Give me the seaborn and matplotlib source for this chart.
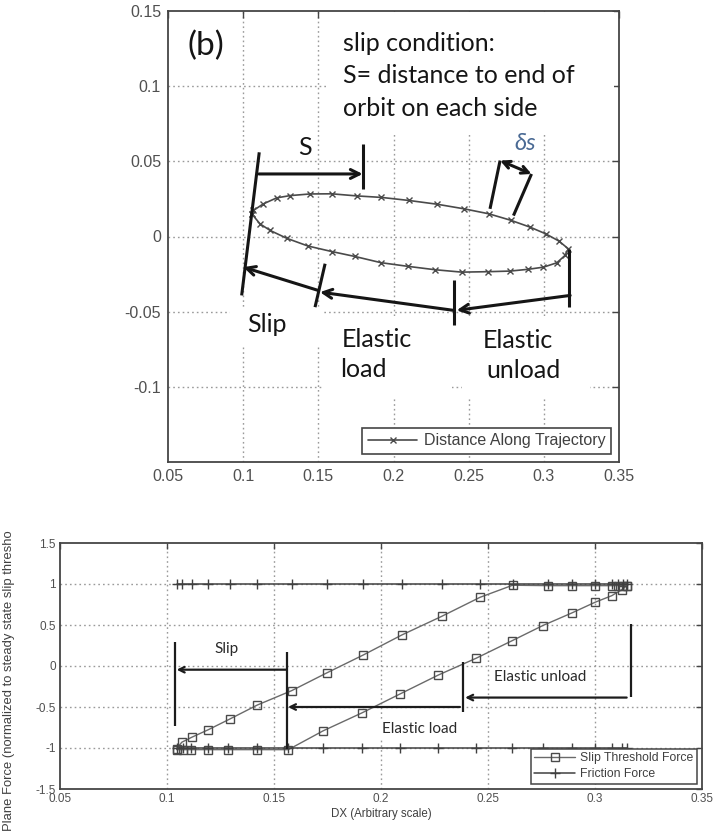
import numpy as np
import pandas as pd
import matplotlib
matplotlib.use("Agg")
import matplotlib.pyplot as plt
from matplotlib.patches import Rectangle
import seaborn as sns

# ---------------- data ----------------
# (b) orbit: upper branch left->right, then lower branch right->left
orbit_upper_x = [0.1057, 0.1068, 0.1134, 0.1223, 0.1312, 0.1445, 0.1589, 0.1755,
                 0.1920, 0.2100, 0.2288, 0.2470, 0.2634, 0.2780, 0.2909, 0.3012,
                 0.3100, 0.3163]
orbit_upper_y = [0.0151, 0.0173, 0.0217, 0.0257, 0.0272, 0.0283, 0.0284, 0.0270,
                 0.0260, 0.0240, 0.0215, 0.0184, 0.0151, 0.0108, 0.0062, 0.0018,
                 -0.0030, -0.0082]
orbit_lower_x = [0.3141, 0.3086, 0.2997, 0.2897, 0.2776, 0.2631, 0.2454, 0.2276,
                 0.2099, 0.1916, 0.1744, 0.1589, 0.1430, 0.1290, 0.1180, 0.1112,
                 0.1057]
orbit_lower_y = [-0.0126, -0.0175, -0.0204, -0.0218, -0.0230, -0.0234, -0.0237,
                 -0.0221, -0.0199, -0.0174, -0.0133, -0.0100, -0.0063, -0.0012,
                 0.0040, 0.0084, 0.0151]

# bottom panel: positions along the two halves of the cycle
dx_lower = [0.1045, 0.1073, 0.1112, 0.1193, 0.1287, 0.1419, 0.1567, 0.1730,
            0.1910, 0.2089, 0.2268, 0.2444, 0.2613, 0.2755, 0.2891, 0.3000,
            0.3078, 0.3125, 0.3148]
thr_lower = [-1.02, -1.02, -1.02, -1.02, -1.02, -1.02, -1.02, -0.79,
             -0.573, -0.341, -0.11, 0.094, 0.309, 0.492, 0.646, 0.777,
             0.857, 0.93, 0.98]
dx_upper = [0.3148, 0.3132, 0.3109, 0.3078, 0.3000, 0.2891, 0.2782, 0.2615,
            0.2463, 0.2284, 0.2097, 0.1917, 0.1746, 0.1583, 0.1422, 0.1294,
            0.1193, 0.1115, 0.1069, 0.1045]
thr_upper = [0.98, 0.98, 0.98, 0.98, 0.98, 0.98, 0.98, 0.985,
             0.838, 0.606, 0.378, 0.134, -0.085, -0.30, -0.476, -0.646,
             -0.777, -0.87, -0.93, -1.01]
fric_lower = [-1.0] * len(dx_lower)
fric_upper = [1.0] * len(dx_upper)

# ticks
top_xticks = [0.05, 0.1, 0.15, 0.2, 0.25, 0.3, 0.35]
top_xlabels = ["0.05", "0.1", "0.15", "0.2", "0.25", "0.3", "0.35"]
top_yticks = [-0.1, -0.05, 0.0, 0.05, 0.1, 0.15]
top_ylabels = ["-0.1", "-0.05", "0", "0.05", "0.1", "0.15"]
bot_xticks = top_xticks
bot_xlabels = top_xlabels
bot_yticks = [-1.5, -1.0, -0.5, 0.0, 0.5, 1.0, 1.5]
bot_ylabels = ["-1.5", "-1", "-0.5", "0", "0.5", "1", "1.5"]

# ---------------- style ----------------
sns.set_theme(style="white")
plt.rcParams["font.family"] = ["Liberation Sans", "DejaVu Sans"]
plt.rcParams["axes.axisbelow"] = True
CAL = ["Lato", "DejaVu Sans"]
INK = "#151515"
AXC = "#454545"

W, H = 715, 834
fig = plt.figure(figsize=(W / 100, H / 100), dpi=100)
fig.patch.set_facecolor("white")


def style_axes(ax, xt, xl, yt, yl, fs, grid_x, grid_y):
    ax.set_xticks(xt)
    ax.set_xticklabels(xl)
    ax.set_yticks(yt)
    ax.set_yticklabels(yl)
    ax.tick_params(direction="in", top=True, right=True, length=5, width=1,
                   color=AXC, labelcolor="#505050", labelsize=fs, pad=5)
    for s in ax.spines.values():
        s.set_color(AXC)
        s.set_linewidth(1.3)
    for v in grid_x:
        ax.axvline(v, color="#9a9a9a", lw=1.0, ls=(0, (1.2, 2.2)), zorder=0.5)
    for v in grid_y:
        ax.axhline(v, color="#9a9a9a", lw=1.0, ls=(0, (1.2, 2.2)), zorder=0.5)


# ================= top panel =================
ax1 = fig.add_axes([168 / W, 1 - 462 / H, 451 / W, 451 / H])
ax1.set_xlim(0.05, 0.35)
ax1.set_ylim(-0.15, 0.15)
style_axes(ax1, top_xticks, top_xlabels, top_yticks, top_ylabels, 11.5,
           [0.1, 0.15, 0.2, 0.25, 0.3], [-0.1, -0.05, 0.0, 0.05, 0.1])

orbit = pd.DataFrame({"x": orbit_upper_x + orbit_lower_x,
                      "y": orbit_upper_y + orbit_lower_y})
sns.lineplot(data=orbit, x="x", y="y", sort=False, estimator=None, ax=ax1,
             color="#4a4a4a", lw=1.2, marker="x", markersize=4.5,
             markeredgecolor="#4a4a4a", markeredgewidth=1.0,
             label="Distance Along Trajectory", zorder=3)

# white text boxes
for (x0, x1, y0, y1) in [(0.1558, 0.3467, 0.069, 0.1495),
                         (0.0913, 0.1525, -0.0724, -0.0478),
                         (0.1525, 0.2390, -0.1076, -0.0531),
                         (0.2456, 0.3308, -0.1076, -0.0531)]:
    ax1.add_patch(Rectangle((x0, y0), x1 - x0, y1 - y0, facecolor="white",
                            edgecolor="none", zorder=1))

lw_a = 2.2
def seg(ax, p, q, lw=lw_a, color=INK):
    ax.plot([p[0], q[0]], [p[1], q[1]], color=color, lw=lw,
            solid_capstyle="butt", zorder=4)

def arrow(ax, start, end, style="->", lw=lw_a, ms=16, color=INK):
    ax.annotate("", xy=end, xytext=start,
                arrowprops=dict(arrowstyle=style, lw=lw, color=color,
                                mutation_scale=ms, shrinkA=0, shrinkB=0),
                zorder=4)

seg(ax1, (0.1107, 0.056), (0.0990, -0.0392))
arrow(ax1, (0.1105, 0.0416), (0.1795, 0.0416))
seg(ax1, (0.1800, 0.0618), (0.1800, 0.0319))
seg(ax1, (0.2642, 0.0184), (0.2709, 0.0505))
seg(ax1, (0.2798, 0.0139), (0.2918, 0.0416))
arrow(ax1, (0.2709, 0.0505), (0.2918, 0.0416), style="<->", ms=13)
arrow(ax1, (0.1500, -0.0359), (0.1001, -0.0204))
seg(ax1, (0.1545, -0.0181), (0.1478, -0.0470))
arrow(ax1, (0.2398, -0.0491), (0.1511, -0.0370))
seg(ax1, (0.2405, -0.0292), (0.2405, -0.0586))
arrow(ax1, (0.3175, -0.0392), (0.2420, -0.0491))
seg(ax1, (0.3170, -0.0080), (0.3170, -0.0470))

tk = dict(family=CAL, color=INK, zorder=5)
ax1.text(0.0753, 0.1268, "(b)", fontsize=24, ha="center", va="center", **tk)
ax1.text(0.1664, 0.1235, "slip condition:", fontsize=18, va="baseline", **tk)
ax1.text(0.1664, 0.1023, "S= distance to end of", fontsize=18, va="baseline", **tk)
ax1.text(0.1664, 0.0803, "orbit on each side", fontsize=18, va="baseline", **tk)
ax1.text(0.1412, 0.0590, "S", fontsize=18, ha="center", va="center", **tk)
ax1.text(0.2875, 0.0616, "δs", fontsize=17, ha="center", va="center",
         style="italic", family=CAL, color="#4a6a94", zorder=5)
ax1.text(0.1026, -0.0637, "Slip", fontsize=18, va="baseline", **tk)
ax1.text(0.1658, -0.0737, "Elastic", fontsize=18, va="baseline", **tk)
ax1.text(0.1644, -0.0936, "load", fontsize=18, va="baseline", **tk)
ax1.text(0.2596, -0.0744, "Elastic", fontsize=18, va="baseline", **tk)
ax1.text(0.2616, -0.0943, "unload", fontsize=18, va="baseline", **tk)

leg1 = ax1.legend(loc="lower right", fontsize=11.5, frameon=True, fancybox=False,
                  framealpha=1, edgecolor=AXC, handlelength=3.1,
                  borderaxespad=0.5, borderpad=0.35, handletextpad=0.4)
leg1.get_frame().set_linewidth(1.2)
for t in leg1.get_texts():
    t.set_color("#404040")
ax1.set_xlabel("")
ax1.set_ylabel("")

# ================= bottom panel =================
ax2 = fig.add_axes([60 / W, 1 - 789 / H, 642 / W, 246 / H])
ax2.set_xlim(0.05, 0.35)
ax2.set_ylim(-1.5, 1.5)
style_axes(ax2, bot_xticks, bot_xlabels, bot_yticks, bot_ylabels, 8.5,
           [0.1, 0.15, 0.2, 0.25, 0.3], [-1.0, -0.5, 0.0, 0.5, 1.0])
ax2.tick_params(length=4, pad=3)

thr = pd.DataFrame({"x": dx_lower + dx_upper, "y": thr_lower + thr_upper})
sns.lineplot(data=thr, x="x", y="y", sort=False, estimator=None, ax=ax2,
             color="#6a6a6a", lw=1.0, marker="s", markersize=6,
             markerfacecolor="none", markeredgecolor="#4a4a4a",
             markeredgewidth=1.0, label="Slip Threshold Force", zorder=3)
fric_kws = dict(sort=False, estimator=None, ax=ax2, color="#404040", lw=1.1,
                marker="+", markersize=7, markeredgecolor="#404040",
                markeredgewidth=1.0, zorder=3)
sns.lineplot(x=dx_lower, y=fric_lower, label="Friction Force", **fric_kws)
sns.lineplot(x=dx_upper, y=fric_upper, label="_nolegend_", **fric_kws)

lw_b = 1.6
seg(ax2, (0.1037, 0.29), (0.1037, -0.73), lw=lw_b, color="#1c1c1c")
seg(ax2, (0.1559, 0.167), (0.1559, -1.01), lw=lw_b, color="#1c1c1c")
arrow(ax2, (0.1559, -0.045), (0.1045, -0.045), lw=lw_b, ms=10, color="#1c1c1c")
arrow(ax2, (0.2369, -0.50), (0.1565, -0.50), lw=lw_b, ms=10, color="#1c1c1c")
seg(ax2, (0.2385, 0.045), (0.2385, -0.565), lw=lw_b, color="#1c1c1c")
arrow(ax2, (0.3148, -0.385), (0.2393, -0.385), lw=lw_b, ms=10, color="#1c1c1c")
seg(ax2, (0.3168, 0.51), (0.3168, -0.38), lw=lw_b, color="#1c1c1c")

bk = dict(family=CAL, color="#2a2a2a", fontsize=11, ha="center", va="center",
          zorder=5, bbox=dict(facecolor="white", edgecolor="none", pad=2))
ax2.text(0.1279, 0.207, "Slip", **bk)
ax2.text(0.2743, -0.14, "Elastic unload", **bk)
ax2.text(0.2182, -0.77, "Elastic load", **bk)

ax2.set_xlabel("DX (Arbitrary scale)", fontsize=8.3, color="#404040", labelpad=2)
ax2.set_ylabel("")

leg2 = ax2.legend(loc="lower right", fontsize=8.8, frameon=True, fancybox=False,
                  framealpha=1, edgecolor=AXC, handlelength=3.3,
                  borderaxespad=0.45, borderpad=0.3, handletextpad=0.4,
                  labelspacing=0.3)
leg2.get_frame().set_linewidth(1.1)
for t in leg2.get_texts():
    t.set_color("#404040")

# vertical axis title of the bottom panel
fig.text(9 / W, 3 / H, "Plane Force (normalized to steady state slip thresho",
         rotation=90, rotation_mode="anchor", ha="left", va="center",
         fontsize=9.4, color="#404040")

fig.savefig("out.png", dpi=100, facecolor="white")
